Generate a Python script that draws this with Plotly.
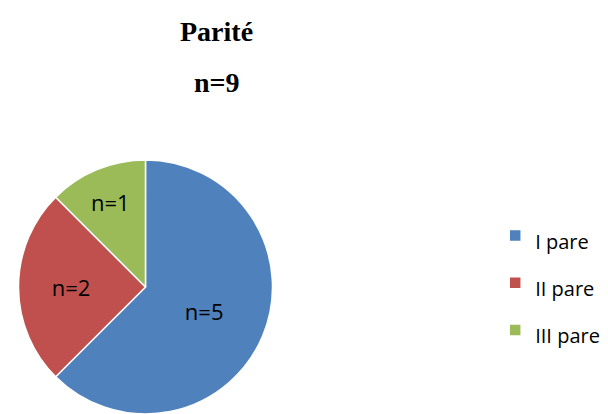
import plotly.graph_objects as go

labels = ["I pare", "II pare", "III pare"]
values = [5, 2, 1]
colors = ["#4F81BD", "#C0504D", "#9BBB59"]
title_lines = ["Parité", "n=9"]

legend_labels = ["<span style='font-size:20px'>%s</span>" % l for l in labels]

fig = go.Figure(go.Pie(
    labels=legend_labels,
    values=values,
    sort=False,
    direction="clockwise",
    rotation=0,
    marker=dict(colors=colors, line=dict(color="white", width=1.5)),
    texttemplate="n=%{value}",
    textposition="inside",
    insidetextorientation="horizontal",
    textfont=dict(family="Open Sans, Liberation Sans, sans-serif", size=22, color="black"),
    hoverinfo="label+value",
    domain=dict(x=[0.015, 0.4433], y=[0.0, 0.6256]),
))

fig.update_layout(
    width=600, height=406,
    margin=dict(l=0, r=0, t=0, b=0),
    paper_bgcolor="white",
    plot_bgcolor="white",
    showlegend=True,
    legend=dict(
        x=0.812, y=0.3227, xanchor="left", yanchor="middle",
        font=dict(family="Open Sans, Liberation Sans, sans-serif", size=34, color="black"),
        itemclick=False,
    ),
    annotations=[
        dict(text="<b>%s</b>" % title_lines[0], x=0.3483, y=0.9433, xref="paper", yref="paper",
             xanchor="center", yanchor="middle",
             showarrow=False, font=dict(family="Liberation Serif, Times New Roman, serif", size=28, color="black")),
        dict(text="<b>%s</b>" % title_lines[1], x=0.3483, y=0.8153, xref="paper", yref="paper",
             xanchor="center", yanchor="middle",
             showarrow=False, font=dict(family="Liberation Serif, Times New Roman, serif", size=28, color="black")),
    ],
)

fig.write_html("out.html")
